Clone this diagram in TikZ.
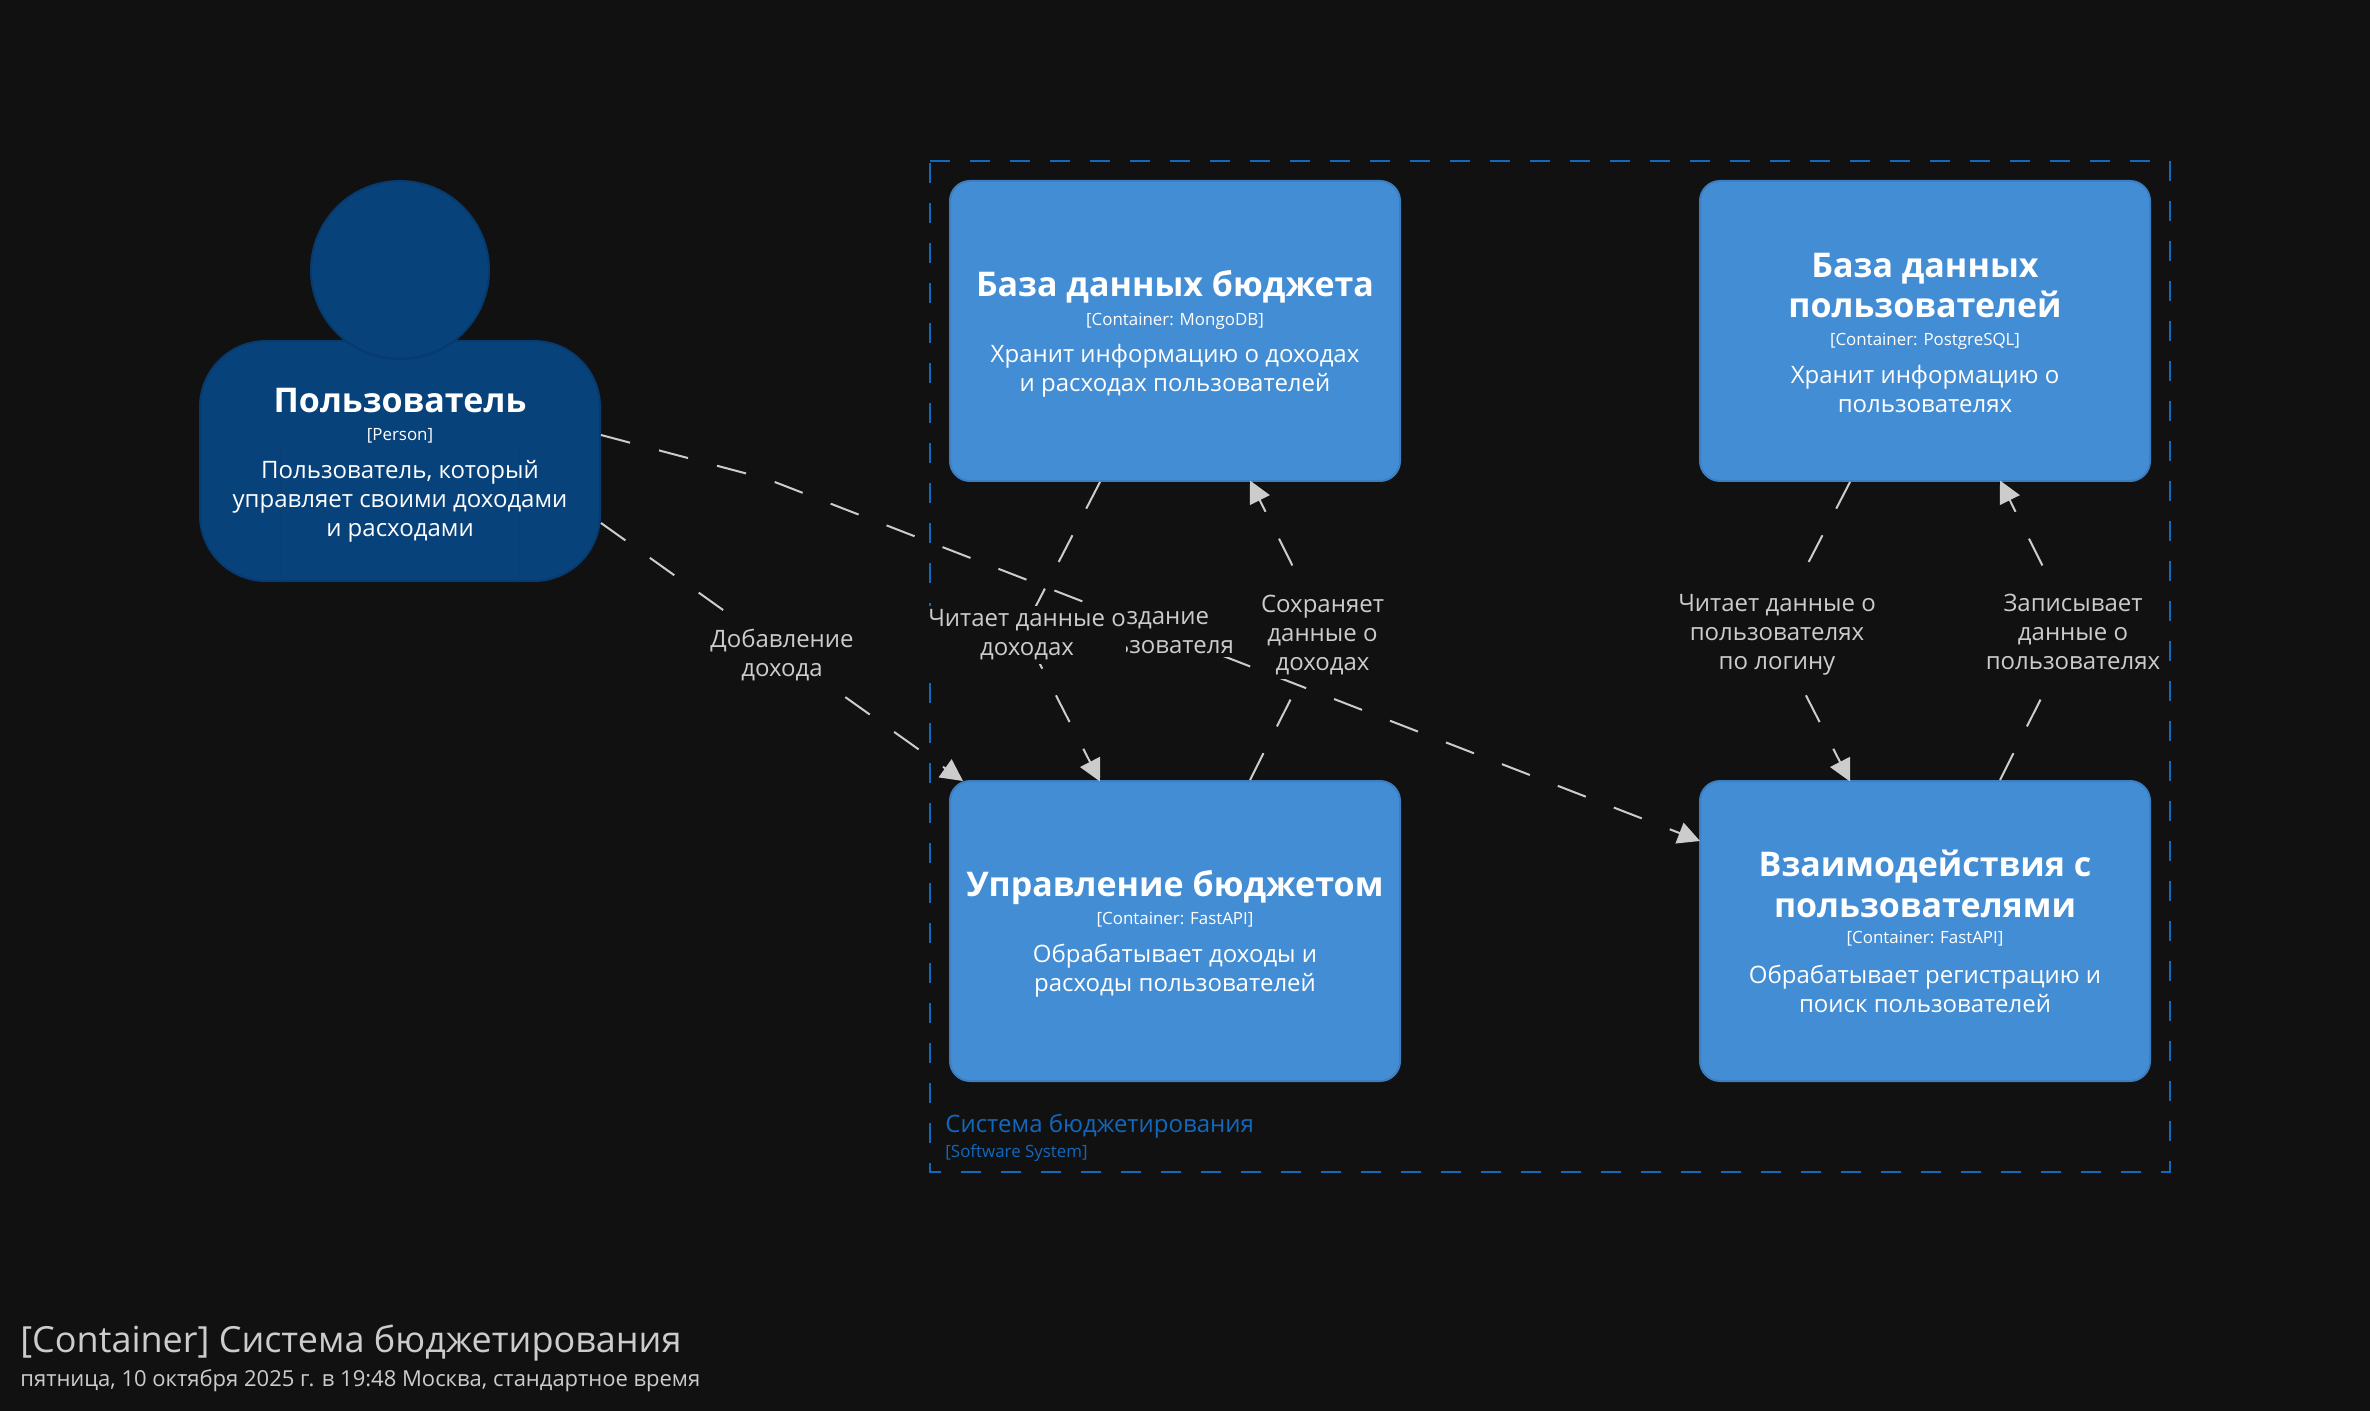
\documentclass[tikz,border=0pt]{standalone}
\usepackage{fontspec}
\setmainfont{Open Sans}
\usetikzlibrary{calc, arrows.meta}
\definecolor{bgdark}{HTML}{111111}
\definecolor{containerblue}{HTML}{438DD5}
\definecolor{containerline}{HTML}{3C7FC0}
\definecolor{personblue}{HTML}{08427B}
\definecolor{personline}{HTML}{073B6F}
\definecolor{personfaint}{HTML}{0A3E74}
\definecolor{systemblue}{HTML}{1168BD}
\definecolor{edgegrey}{HTML}{CCCCCC}
\tikzset{main node/.style={rectangle,draw=containerline,fill=containerblue,line width=1pt,rounded corners=10pt,minimum width=225pt,minimum height=150pt,inner sep=0pt},
person node/.style={rectangle,draw=personline,fill=personblue,line width=1pt,rounded corners=33pt,minimum width=200pt,minimum height=120pt,inner sep=0pt},
head node/.style={circle,draw=personline,fill=personblue,line width=1pt,minimum size=89pt,inner sep=0pt},
name text/.style={text=white,align=center,inner sep=0pt,font=\fontsize{17pt}{20.25pt}\selectfont\bfseries},
meta text/.style={text=white,align=center,inner sep=0pt,font=\fontsize{8.45pt}{10pt}\selectfont},
desc text/.style={text=white,align=center,inner sep=0pt,font=\fontsize{12pt}{14.5pt}\selectfont},
edge label/.style={text=edgegrey,fill=bgdark,align=center,inner xsep=0pt,inner ysep=2pt,font=\fontsize{12pt}{14.5pt}\selectfont},
edge line/.style={draw=edgegrey,line width=1pt,dash pattern=on 15pt off 15pt,-{Triangle[length=11pt,width=11pt,fill=edgegrey]}}}

\begin{document}
\begin{tikzpicture}[x=0.5pt,y=-0.5pt]

%DRAWING Background and system boundary
 \fill[bgdark] (0,0) rectangle (2370,1411);
 \draw[systemblue,line width=1pt,dash pattern=on 10pt off 10pt] (930,161)--(2170,161)--(2170,1172)--(930,1172)--cycle;

 \node[text=systemblue,anchor=west,inner sep=0pt,font=\fontsize{12pt}{14.5pt}\selectfont] (SystemName) at (945,1126) {Система бюджетирования};
 \node[text=systemblue,anchor=west,inner sep=0pt,font=\fontsize{8.45pt}{10pt}\selectfont] (SystemType) at (945,1153) {[Software System]};

%Inserting person
 \node[person node] (UserBody) at (400,461) {};
 \draw[personfaint,line width=0.5pt] (280,447)--(280,581);
 \draw[personfaint,line width=0.5pt] (519,447)--(519,581);
 \node[head node] (UserHead) at (400,270) {};
 \node[name text] (UserName) at (400,400.5) {Пользователь};
 \node[meta text] (UserMeta) at (400,435.5) {[Person]};
 \node[desc text] (UserDesc) at (400,501) {Пользователь, который\\управляет своими доходами\\и расходами};

%Inserting containers
 \node[main node] (BudgetDb) at (1175,331) {};
 \node[name text] (BudgetDbName) at (1175,287) {База данных бюджета};
 \node[meta text] (BudgetDbMeta) at (1175,321) {[Container: MongoDB]};
 \node[desc text] (BudgetDbDesc) at (1175,371) {Хранит информацию о доходах\\и расходах пользователей};

 \node[main node] (UserDb) at (1925,331) {};
 \node[name text] (UserDbName) at (1925,285.5) {База данных\\пользователей};
 \node[meta text] (UserDbMeta) at (1925,341) {[Container: PostgreSQL]};
 \node[desc text] (UserDbDesc) at (1925,389) {Хранит информацию о\\пользователях};

 \node[main node] (BudgetApi) at (1175,931) {};
 \node[name text] (BudgetApiName) at (1175,888) {Управление бюджетом};
 \node[meta text] (BudgetApiMeta) at (1175,920) {[Container: FastAPI]};
 \node[desc text] (BudgetApiDesc) at (1175,971) {Обрабатывает доходы и\\расходы пользователей};

 \node[main node] (UserApi) at (1925,931) {};
 \node[name text] (UserApiName) at (1925,884) {Взаимодействия с\\пользователями};
 \node[meta text] (UserApiMeta) at (1925,939) {[Container: FastAPI]};
 \node[desc text] (UserApiDesc) at (1925,989) {Обрабатывает регистрацию и\\поиск пользователей};

%Routing points of the connectors
 \coordinate (BendCreate) at (767,479);
 \coordinate (BendReadBudget) at (1023,631);
 \coordinate (BendSaveBudget) at (1325,631);
 \coordinate (BendReadUser) at (1773,631);
 \coordinate (BendSaveUser) at (2075,631);

%Connectors and their labels
 \draw[edge line] ($(UserBody.east)+(0,-26)$)--(BendCreate)--($(UserApi.west)+(1,-90)$);
 \node[edge label] (CreateLabel) at (1153,630) {Создание\\пользователя};

 \draw[edge line] ($(UserBody.east)+(0,62)$)--($(BudgetApi.north west)+(14,1)$);
 \node[edge label] (AddLabel) at (782,655.5) {Добавление\\дохода};

 \draw[edge line] ($(BudgetDb.south)+(-75,0)$)--(BendReadBudget)--($(BudgetApi.north)+(-75,1.5)$);
 \node[edge label] (ReadBudgetLabel) at (1027,635) {Читает данные о\\доходах};

 \draw[edge line] ($(BudgetApi.north)+(75,0)$)--(BendSaveBudget)--($(BudgetDb.south)+(75,-1.5)$);
 \node[edge label] (SaveBudgetLabel) at (1322.5,635) {Сохраняет\\данные о\\доходах};

 \draw[edge line] ($(UserDb.south)+(-75,0)$)--(BendReadUser)--($(UserApi.north)+(-75,1.5)$);
 \node[edge label,inner ysep=4pt] (ReadUserLabel) at (1777,635) {Читает данные о\\пользователях\\по логину};

 \draw[edge line] ($(UserApi.north)+(75,0)$)--(BendSaveUser)--($(UserDb.south)+(75,-1.5)$);
 \node[edge label] (SaveUserLabel) at (2073,632) {Записывает\\данные о\\пользователях};

%Diagram title
 \node[text=edgegrey,anchor=west,inner sep=0pt,font=\fontsize{18pt}{22pt}\selectfont] (DiagramTitle) at (20,1343) {[Container] Система бюджетирования};
 \node[text=edgegrey,anchor=west,inner sep=0pt,font=\fontsize{11pt}{14pt}\selectfont] (DiagramDate) at (20,1381) {пятница, 10 октября 2025 г. в 19:48 Москва, стандартное время};

\end{tikzpicture}
\end{document}
